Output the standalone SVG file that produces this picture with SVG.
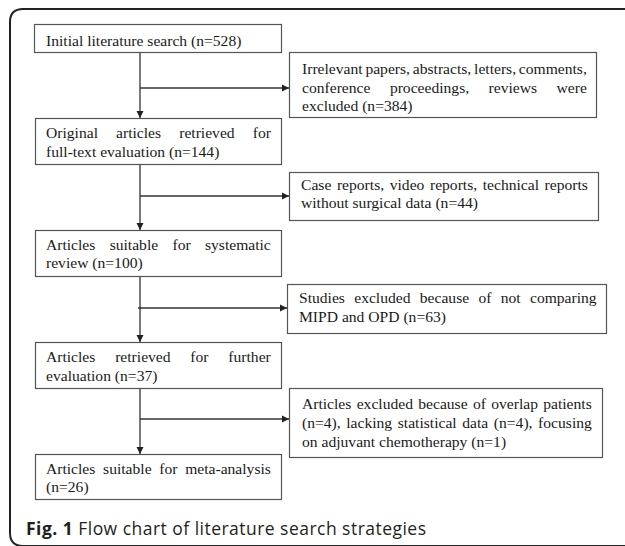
<svg xmlns="http://www.w3.org/2000/svg" width="625" height="546" viewBox="0 0 625 546">
<style>
.box{fill:#fff;stroke:#555;stroke-width:1.2}
.t{font-family:"Liberation Serif","Times New Roman",serif;font-size:15.6px;fill:#1a1a1a}
.c{stroke:#333;stroke-width:1.3;fill:none}
.frame{fill:none;stroke:#222;stroke-width:2}
.cap{font-family:"Open Sans","Noto Sans",sans-serif;font-size:17.5px;fill:#231f20}
</style>
<defs>
<marker id="ah" markerWidth="8" markerHeight="8" refX="7" refY="4" orient="auto" markerUnits="userSpaceOnUse"><path d="M0,0.5 L7,4 L0,7.5 z" fill="#222"/></marker>
</defs>
<rect width="625" height="546" fill="#fff"/>
<path class="frame" d="M626 9 H23 Q10 9 10 22 V533 Q10 546 23 546 H626"/>
<g id="connectors">
<line class="c" x1="140" y1="52" x2="140" y2="118" marker-end="url(#ah)"/>
<line class="c" x1="140" y1="88" x2="289" y2="88" marker-end="url(#ah)"/>
<line class="c" x1="140" y1="164" x2="140" y2="230" marker-end="url(#ah)"/>
<line class="c" x1="140" y1="196" x2="289" y2="196" marker-end="url(#ah)"/>
<line class="c" x1="140" y1="276" x2="140" y2="342" marker-end="url(#ah)"/>
<line class="c" x1="138" y1="308" x2="287" y2="308" marker-end="url(#ah)"/>
<line class="c" x1="140" y1="388" x2="140" y2="454" marker-end="url(#ah)"/>
<line class="c" x1="140" y1="419" x2="289" y2="419" marker-end="url(#ah)"/>
</g>
<g id="n1">
<rect class="box" x="34.5" y="24.5" width="247" height="28"/>
<text class="t" x="46" y="45.5">Initial literature search (n=528)</text>
</g>
<g id="n2">
<rect class="box" x="35.5" y="118.5" width="246" height="46"/>
<text class="t" x="46" y="138" style="word-spacing:14.2px">Original articles retrieved for</text>
<text class="t" x="46" y="156.5">full-text evaluation (n=144)</text>
</g>
<g id="n3">
<rect class="box" x="35.5" y="230.5" width="246" height="46"/>
<text class="t" x="46" y="250" style="word-spacing:10.4px">Articles suitable for systematic</text>
<text class="t" x="46" y="268">review (n=100)</text>
</g>
<g id="n4">
<rect class="box" x="35.5" y="342.5" width="246" height="46"/>
<text class="t" x="46" y="362" style="word-spacing:15.9px">Articles retrieved for further</text>
<text class="t" x="46" y="380.5">evaluation (n=37)</text>
</g>
<g id="n5">
<rect class="box" x="35.5" y="454.5" width="246" height="45"/>
<text class="t" x="46" y="474" style="word-spacing:3.8px">Articles suitable for meta-analysis</text>
<text class="t" x="46" y="492">(n=26)</text>
</g>
<g id="r1">
<rect class="box" x="289.5" y="52.5" width="307" height="65"/>
<text class="t" x="302" y="74" style="word-spacing:-1.1px">Irrelevant papers, abstracts, letters, comments,</text>
<text class="t" x="302" y="92.5" style="word-spacing:15.6px">conference proceedings, reviews were</text>
<text class="t" x="302" y="111">excluded (n=384)</text>
</g>
<g id="r2">
<rect class="box" x="289.5" y="172.5" width="309" height="48"/>
<text class="t" x="301" y="190" style="word-spacing:1.7px">Case reports, video reports, technical reports</text>
<text class="t" x="301" y="208">without surgical data (n=44)</text>
</g>
<g id="r3">
<rect class="box" x="287.5" y="284.5" width="319" height="49"/>
<text class="t" x="299" y="303" style="word-spacing:5.4px">Studies excluded because of not comparing</text>
<text class="t" x="299" y="321.5">MIPD and OPD (n=63)</text>
</g>
<g id="r4">
<rect class="box" x="289.5" y="388.5" width="313" height="69"/>
<text class="t" x="302" y="409" style="word-spacing:1.4px">Articles excluded because of overlap patients</text>
<text class="t" x="302" y="428" style="word-spacing:1.7px">(n=4), lacking statistical data (n=4), focusing</text>
<text class="t" x="302" y="447">on adjuvant chemotherapy (n=1)</text>
</g>
<text class="cap" x="26" y="535" textLength="400" lengthAdjust="spacing"><tspan font-weight="bold">Fig. 1</tspan> Flow chart of literature search strategies</text>
</svg>
